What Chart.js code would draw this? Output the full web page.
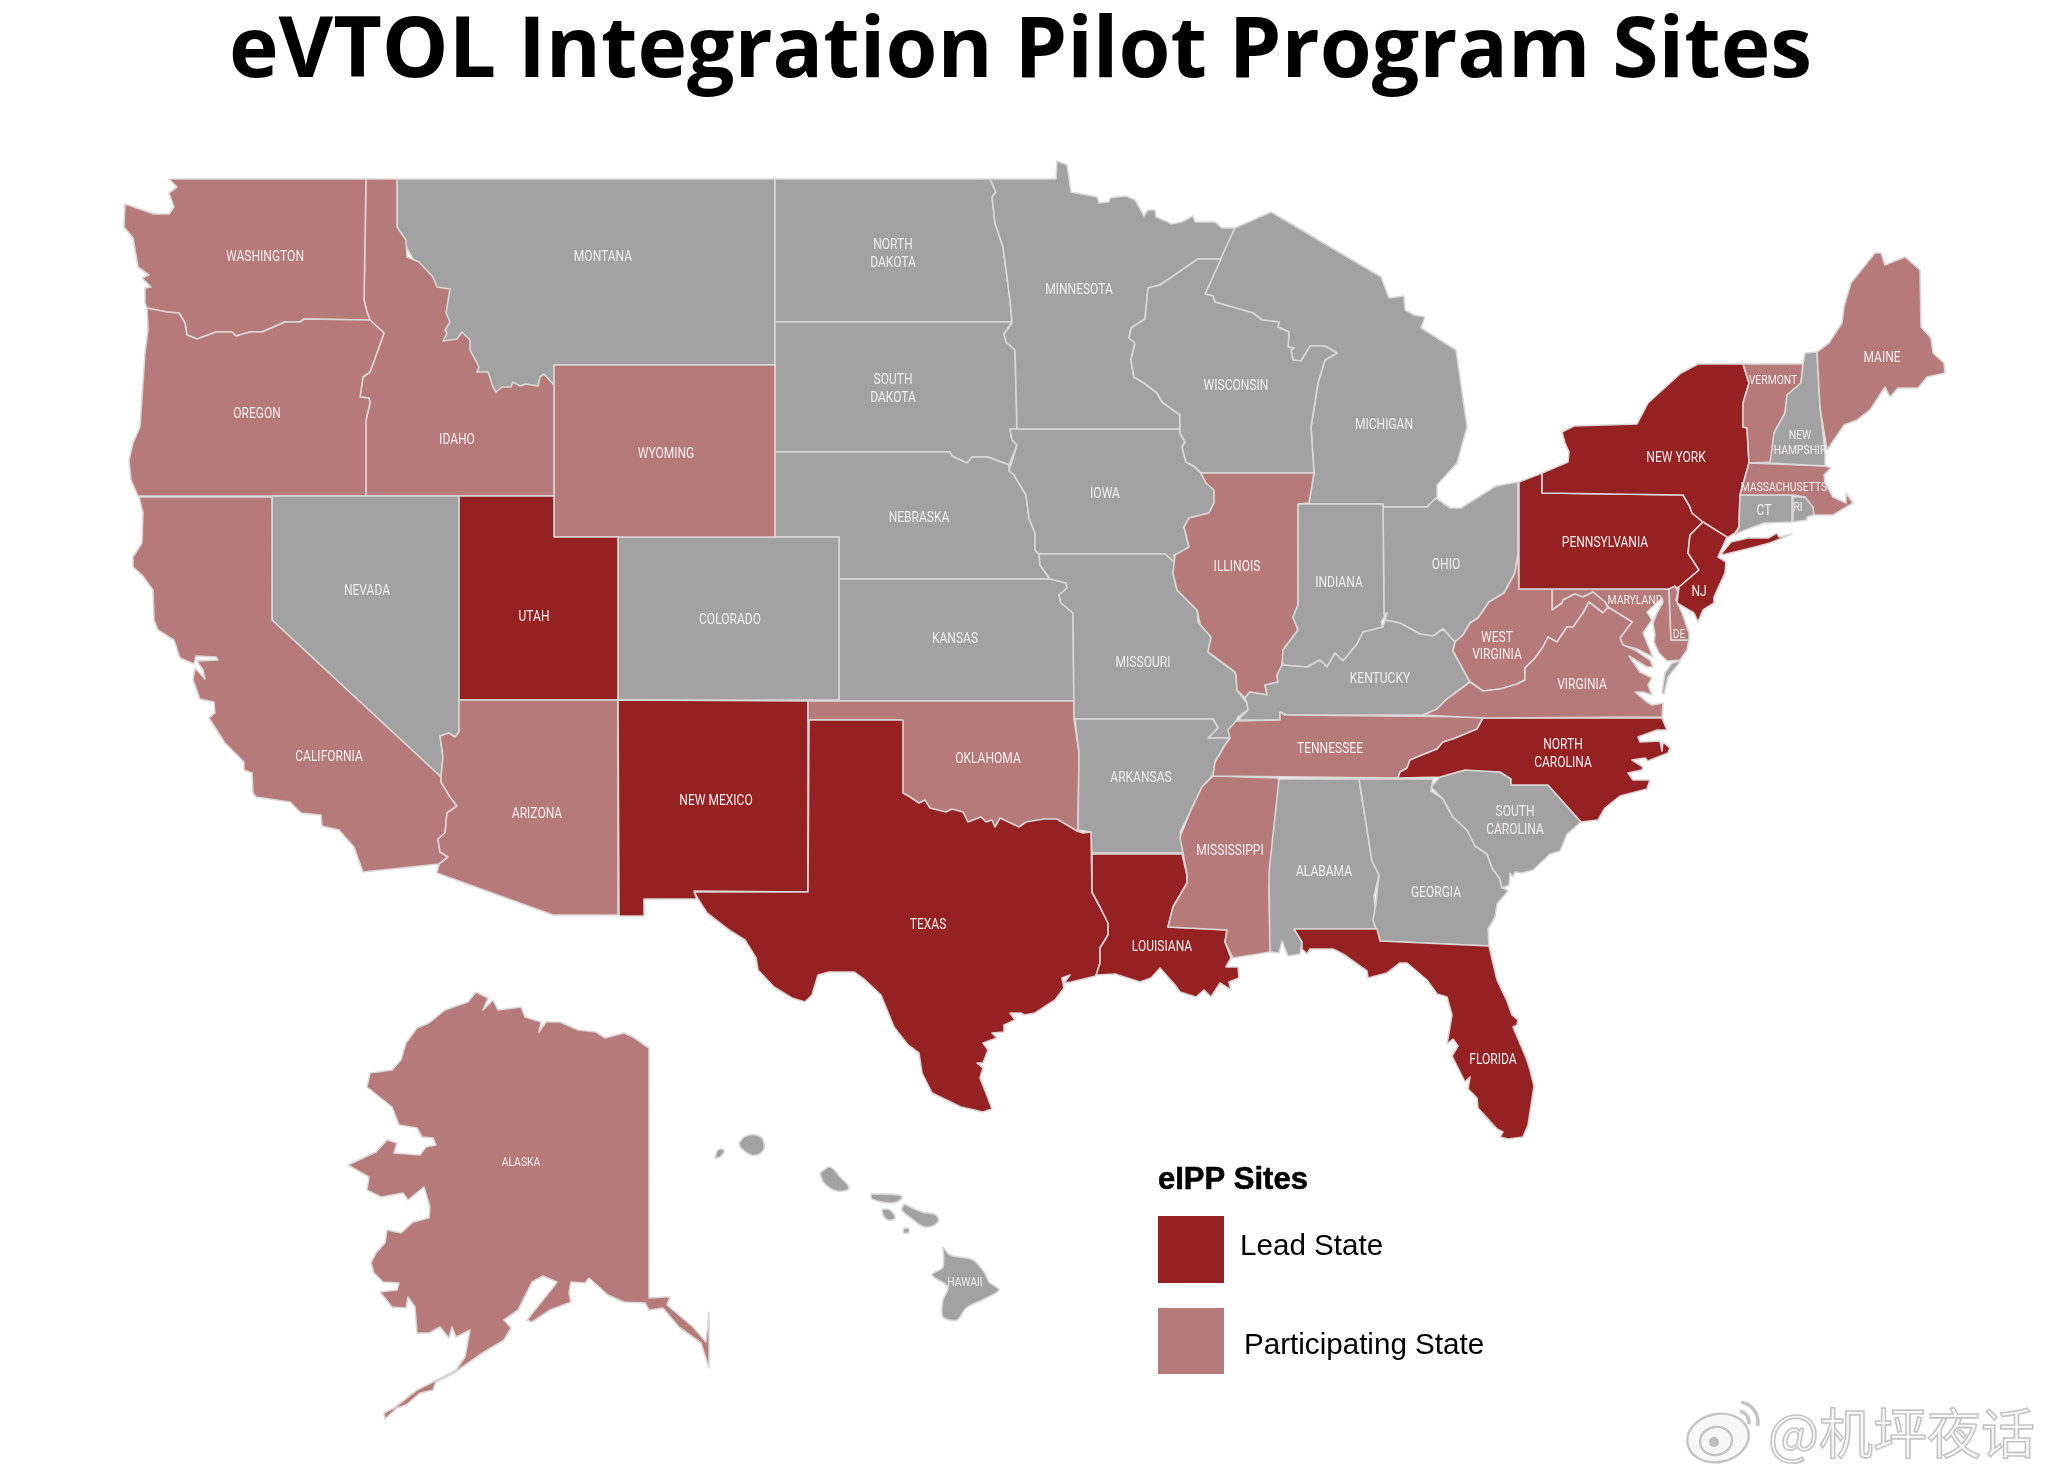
<!DOCTYPE html>
<html>
<head>
<meta charset="utf-8">
<title>eVTOL Integration Pilot Program Sites</title>
<script src="https://cdn.jsdelivr.net/npm/chart.js@4/dist/chart.umd.min.js"></script>
<style>
  html, body { margin: 0; padding: 0; background: #fff; }
  canvas { display: block; }
</style>
</head>
<body>
<canvas id="map" width="2051" height="1483"></canvas>
<script>
// state outlines (map units = picture pixels)
const washington = [[169,179],[177,187],[169,193],[174,207],[169,214],[154,214],[125,204],[124,227],[133,238],[138,267],[149,275],[142,278],[151,287],[145,288],[145,303],[147,308],[167,312],[179,313],[185,323],[187,335],[197,339],[216,332],[232,332],[236,336],[250,332],[262,332],[285,322],[300,322],[304,319],[370,320],[367,312],[364,300],[366,179]];
const oregon = [[147,308],[167,312],[179,313],[185,323],[187,335],[197,339],[216,332],[232,332],[236,336],[250,332],[262,332],[285,322],[300,322],[304,319],[370,320],[384,333],[370,372],[363,377],[360,397],[369,398],[370,403],[366,420],[366,496],[138,496],[131,480],[129,460],[133,443],[140,427],[145,353],[148,330]];
const idaho = [[366,179],[397,179],[397,227],[406,240],[407,257],[419,262],[433,277],[437,287],[450,289],[446,313],[450,322],[445,330],[447,333],[443,341],[457,339],[462,332],[470,340],[470,350],[479,367],[477,372],[488,372],[493,387],[496,392],[502,387],[511,387],[513,382],[520,386],[526,384],[538,386],[540,377],[544,374],[554,385],[554,496],[366,496],[366,420],[370,403],[369,398],[360,397],[363,377],[370,372],[384,333],[370,320],[367,312],[364,300]];
const montana = [[397,179],[775,179],[775,365],[554,365],[554,400],[470,400],[440,345],[430,290],[397,230]];
const wyoming = [[554,365],[775,365],[775,537],[554,537]];
const utah = [[459,496],[554,496],[554,537],[618,537],[618,700],[459,700]];
const nevada = [[272,496],[459,496],[459,732],[455,737],[449,733],[440,736],[443,757],[441,777],[272,620]];
const california = [[139,497],[272,497],[272,620],[441,777],[441,782],[450,797],[457,806],[447,813],[445,833],[438,839],[440,852],[448,857],[439,864],[363,872],[354,847],[339,830],[322,826],[321,815],[301,813],[290,802],[256,797],[253,793],[252,773],[244,770],[244,762],[225,743],[209,718],[215,713],[214,702],[200,699],[193,680],[195,668],[205,679],[203,670],[197,661],[218,660],[216,657],[196,656],[194,664],[180,658],[174,640],[158,630],[154,620],[153,590],[142,575],[133,567],[133,557],[142,543],[143,513]];
const arizona = [[459,700],[618,700],[618,915],[553,915],[437,873],[439,864],[448,857],[440,852],[438,839],[445,833],[447,813],[457,806],[450,797],[441,782],[441,777],[443,757],[440,736],[449,733],[455,737],[459,732]];
const colorado = [[618,537],[839,537],[839,700],[618,700]];
const newMexico = [[618,700],[808,701],[808,892],[694,891],[697,899],[644,899],[644,916],[619,916]];
const northDakota = [[775,179],[990,179],[996,192],[992,197],[995,223],[1003,247],[1010,300],[1012,322],[775,322]];
const southDakota = [[775,322],[1012,322],[1004,334],[1006,342],[1015,350],[1017,429],[1010,429],[1012,440],[1017,445],[1009,465],[988,457],[972,457],[967,463],[952,456],[950,452],[775,452]];
const nebraska = [[775,452],[950,452],[952,456],[967,463],[972,457],[988,457],[1009,465],[1009,471],[1014,475],[1026,495],[1029,518],[1035,533],[1035,550],[1039,554],[1040,565],[1050,579],[839,579],[839,537],[775,537]];
const kansas = [[839,579],[1050,579],[1066,583],[1067,588],[1059,595],[1061,603],[1073,613],[1074,701],[839,701]];
const oklahoma = [[808,701],[1074,701],[1074,719],[1079,753],[1078,835],[1060,850],[900,830],[900,720],[808,720]];
const texas = [[694,892],[808,892],[809,720],[903,720],[903,793],[910,797],[919,803],[925,800],[930,808],[946,812],[952,809],[963,812],[968,822],[981,817],[986,822],[992,820],[995,827],[1000,818],[1019,827],[1026,822],[1044,819],[1057,819],[1077,831],[1083,833],[1091,832],[1092,892],[1100,907],[1108,923],[1108,935],[1100,948],[1100,963],[1096,976],[1071,982],[1064,983],[1070,975],[1062,978],[1064,988],[1055,1000],[1035,1013],[1024,1015],[1021,1013],[1010,1013],[1015,1020],[1004,1025],[1004,1032],[992,1033],[997,1038],[983,1043],[988,1050],[983,1063],[977,1063],[983,1068],[980,1078],[986,1093],[992,1109],[983,1112],[961,1107],[932,1093],[922,1073],[919,1053],[908,1045],[894,1027],[881,995],[865,980],[854,972],[829,972],[818,975],[812,995],[805,1002],[792,998],[774,987],[758,970],[756,958],[745,940],[729,930],[707,913],[700,902]];
const minnesota = [[990,179],[1056,179],[1057,161],[1067,165],[1071,192],[1097,197],[1099,203],[1109,202],[1110,198],[1126,196],[1135,200],[1144,216],[1148,210],[1155,210],[1156,217],[1168,222],[1171,224],[1182,222],[1193,216],[1195,222],[1215,222],[1222,228],[1235,228],[1221,259],[1198,259],[1160,285],[1148,288],[1145,319],[1131,328],[1129,338],[1135,343],[1131,360],[1134,377],[1144,383],[1157,393],[1162,402],[1180,415],[1180,429],[1017,429],[1015,350],[1006,342],[1004,334],[1012,323],[1010,300],[1003,247],[995,223],[992,197],[996,192]];
const iowa = [[1010,429],[1180,429],[1180,433],[1185,442],[1182,447],[1186,462],[1195,467],[1201,473],[1206,483],[1214,490],[1214,503],[1209,513],[1189,518],[1184,527],[1189,547],[1182,552],[1174,555],[1175,563],[1165,554],[1039,554],[1035,550],[1035,533],[1029,518],[1026,495],[1014,475],[1009,471],[1017,445],[1012,440]];
const missouri = [[1039,554],[1165,554],[1175,563],[1173,573],[1177,590],[1197,610],[1198,622],[1211,637],[1208,652],[1235,672],[1236,675],[1237,690],[1242,697],[1247,703],[1248,710],[1238,717],[1235,723],[1230,730],[1232,738],[1208,738],[1218,728],[1213,719],[1074,719],[1073,613],[1061,603],[1059,595],[1067,588],[1066,583],[1050,579],[1040,565]];
const arkansas = [[1075,719],[1213,719],[1218,728],[1208,738],[1230,738],[1225,745],[1215,762],[1213,775],[1202,787],[1191,810],[1180,832],[1184,853],[1092,853],[1091,832],[1078,830],[1079,753]];
const louisiana = [[1092,854],[1182,854],[1187,875],[1187,883],[1173,907],[1168,927],[1227,930],[1225,942],[1231,958],[1226,967],[1238,967],[1239,978],[1229,982],[1231,990],[1220,983],[1211,997],[1204,990],[1196,997],[1180,992],[1175,985],[1160,968],[1151,978],[1140,982],[1115,974],[1096,975],[1100,963],[1100,948],[1108,935],[1108,923],[1100,907],[1092,892]];
const wisconsin = [[1221,259],[1198,259],[1160,285],[1148,288],[1145,319],[1131,328],[1129,338],[1135,343],[1131,360],[1134,377],[1144,383],[1157,393],[1162,402],[1180,415],[1180,433],[1185,442],[1182,447],[1186,462],[1195,467],[1201,473],[1314,473],[1311,427],[1318,383],[1325,360],[1337,353],[1325,346],[1310,346],[1301,361],[1293,360],[1291,350],[1294,348],[1288,347],[1289,332],[1278,327],[1279,322],[1262,320],[1253,313],[1215,302],[1213,296],[1205,294]];
const michigan = [[1235,228],[1271,212],[1381,277],[1389,298],[1404,296],[1405,310],[1414,315],[1425,317],[1421,328],[1456,350],[1467,427],[1457,463],[1437,485],[1437,497],[1427,507],[1383,507],[1383,504],[1298,504],[1309,503],[1314,473],[1311,427],[1318,383],[1325,360],[1337,353],[1325,346],[1310,346],[1301,361],[1293,360],[1291,350],[1294,348],[1288,347],[1289,332],[1278,327],[1279,322],[1262,320],[1253,313],[1215,302],[1213,296],[1205,294],[1221,258]];
const illinois = [[1201,473],[1314,473],[1309,503],[1298,504],[1298,605],[1293,617],[1298,630],[1283,650],[1283,663],[1277,675],[1278,682],[1265,685],[1267,695],[1250,692],[1245,698],[1237,690],[1236,675],[1235,672],[1208,652],[1211,637],[1198,622],[1200,623],[1197,610],[1177,590],[1173,573],[1175,555],[1189,547],[1184,527],[1189,518],[1209,513],[1214,503],[1214,490],[1206,483]];
const indiana = [[1298,504],[1383,504],[1384,615],[1387,613],[1381,622],[1383,627],[1363,632],[1357,644],[1343,661],[1335,653],[1327,667],[1320,660],[1307,667],[1282,665],[1283,650],[1298,630],[1293,617],[1298,605]];
const ohio = [[1383,507],[1427,507],[1436,498],[1450,508],[1461,508],[1496,486],[1518,482],[1518,553],[1515,573],[1504,593],[1489,602],[1478,618],[1470,623],[1463,635],[1455,642],[1443,629],[1433,636],[1420,634],[1400,623],[1385,620],[1387,613],[1384,615]];
const kentucky = [[1282,665],[1307,667],[1320,660],[1327,667],[1335,653],[1343,661],[1357,644],[1363,632],[1383,627],[1385,620],[1400,623],[1420,634],[1433,636],[1443,629],[1455,642],[1453,651],[1470,682],[1447,699],[1437,709],[1423,715],[1287,715],[1280,712],[1280,720],[1238,720],[1248,710],[1247,703],[1245,698],[1250,692],[1267,695],[1265,685],[1278,682],[1277,675],[1283,663]];
const tennessee = [[1280,712],[1285,715],[1483,717],[1477,729],[1453,739],[1443,742],[1437,749],[1427,753],[1410,760],[1407,768],[1400,772],[1398,778],[1213,776],[1215,762],[1225,745],[1230,738],[1228,730],[1236,721],[1280,720]];
const mississippi = [[1213,776],[1278,778],[1280,787],[1269,887],[1270,952],[1233,958],[1225,942],[1227,930],[1168,927],[1173,907],[1187,883],[1187,875],[1180,837],[1191,810],[1202,787]];
const alabama = [[1279,779],[1359,779],[1372,861],[1379,875],[1374,896],[1376,918],[1377,929],[1294,929],[1302,942],[1300,954],[1288,956],[1282,941],[1279,953],[1270,952],[1269,872]];
const georgia = [[1359,779],[1433,779],[1431,791],[1443,799],[1453,817],[1467,830],[1475,846],[1487,854],[1492,868],[1500,879],[1502,887],[1508,891],[1497,904],[1495,917],[1488,929],[1489,946],[1380,941],[1373,920],[1376,903],[1379,875],[1372,861]];
const southCarolina = [[1431,787],[1440,777],[1465,770],[1500,772],[1511,779],[1511,785],[1548,785],[1581,822],[1567,834],[1560,851],[1550,854],[1533,870],[1522,873],[1515,872],[1513,877],[1510,873],[1509,885],[1502,888],[1500,879],[1492,868],[1487,854],[1475,846],[1467,830],[1453,817],[1443,799]];
const florida = [[1294,929],[1377,929],[1380,941],[1489,946],[1497,980],[1507,1001],[1512,1015],[1518,1020],[1517,1025],[1513,1027],[1527,1060],[1530,1070],[1534,1086],[1528,1125],[1523,1137],[1508,1139],[1500,1137],[1503,1132],[1497,1129],[1478,1108],[1477,1098],[1468,1089],[1470,1077],[1465,1082],[1452,1056],[1458,1046],[1453,1039],[1447,1044],[1452,1015],[1447,997],[1437,994],[1427,980],[1407,963],[1400,963],[1387,973],[1368,978],[1367,971],[1343,954],[1333,949],[1310,949],[1307,954],[1302,949],[1302,942]];
const northCarolina = [[1483,718],[1662,718],[1667,730],[1657,730],[1638,737],[1640,742],[1660,741],[1662,751],[1663,742],[1670,748],[1668,753],[1648,761],[1645,758],[1632,760],[1643,767],[1642,770],[1628,773],[1633,780],[1650,780],[1647,789],[1620,796],[1605,808],[1598,820],[1581,822],[1548,785],[1511,785],[1511,779],[1500,772],[1465,770],[1440,777],[1398,778],[1400,772],[1407,768],[1410,760],[1427,753],[1437,749],[1443,742],[1453,739],[1477,729]];
const virginia = [[1423,715],[1437,709],[1447,699],[1470,682],[1483,691],[1500,689],[1517,684],[1525,680],[1525,668],[1535,658],[1543,647],[1548,637],[1557,642],[1567,627],[1573,627],[1583,613],[1589,602],[1603,613],[1608,607],[1632,622],[1620,638],[1623,645],[1635,650],[1650,660],[1653,667],[1647,667],[1629,656],[1640,672],[1652,678],[1648,685],[1652,695],[1643,692],[1635,692],[1647,702],[1652,705],[1663,703],[1662,717],[1483,718]];
const virginiaShore = [[1680,661],[1672,663],[1665,673],[1662,693],[1664,694],[1668,677],[1680,662]];
const westVirginia = [[1518,553],[1519,589],[1552,589],[1552,610],[1562,603],[1563,600],[1575,594],[1583,597],[1593,592],[1605,602],[1608,607],[1603,613],[1589,602],[1583,613],[1573,627],[1567,627],[1557,642],[1548,637],[1543,647],[1535,658],[1525,668],[1525,680],[1517,684],[1500,689],[1483,691],[1470,682],[1453,651],[1455,642],[1463,635],[1470,623],[1478,618],[1489,602],[1504,593],[1515,573]];
const maryland = [[1552,589],[1669,589],[1671,640],[1689,640],[1687,650],[1680,660],[1667,661],[1659,653],[1654,642],[1655,635],[1653,623],[1657,613],[1663,602],[1662,598],[1647,612],[1652,620],[1643,633],[1648,645],[1653,657],[1637,649],[1623,645],[1620,638],[1632,622],[1608,607],[1605,602],[1593,592],[1583,597],[1575,594],[1563,600],[1562,603],[1552,610]];
const delaware = [[1669,589],[1675,586],[1678,592],[1676,600],[1682,613],[1689,633],[1689,640],[1671,640]];
const pennsylvania = [[1519,482],[1542,473],[1542,493],[1683,495],[1690,507],[1692,513],[1703,522],[1690,535],[1688,553],[1699,570],[1679,587],[1668,589],[1519,589]];
const newYork = [[1542,473],[1568,462],[1569,452],[1565,443],[1562,432],[1574,426],[1637,424],[1648,403],[1681,373],[1698,364],[1743,364],[1749,383],[1743,403],[1743,427],[1747,428],[1749,463],[1740,495],[1739,527],[1735,533],[1727,538],[1703,522],[1692,513],[1690,507],[1683,495],[1542,493]];
const longIsland = [[1722,553],[1731,542],[1748,538],[1768,538],[1777,533],[1779,537],[1792,534],[1770,543],[1751,548],[1722,555]];
const newJersey = [[1703,522],[1727,537],[1718,557],[1726,562],[1725,573],[1714,597],[1714,603],[1703,610],[1698,622],[1694,613],[1677,603],[1679,587],[1699,570],[1688,553],[1690,535]];
const connecticut = [[1740,495],[1792,495],[1792,522],[1764,523],[1740,532],[1735,535],[1739,527]];
const rhodeIsland = [[1793,497],[1805,497],[1813,507],[1814,515],[1807,517],[1807,520],[1793,522]];
const massachusetts = [[1749,463],[1825,466],[1831,468],[1824,475],[1825,483],[1833,497],[1846,503],[1846,493],[1853,503],[1833,515],[1814,515],[1805,497],[1793,495],[1740,495]];
const vermont = [[1743,364],[1803,364],[1801,383],[1787,395],[1785,413],[1774,433],[1772,462],[1749,463],[1747,428],[1743,427],[1743,403],[1749,383]];
const newHampshire = [[1805,353],[1817,352],[1820,407],[1825,453],[1825,466],[1770,463],[1774,433],[1785,413],[1787,395],[1801,383],[1803,364]];
const maine = [[1817,352],[1829,343],[1842,323],[1844,307],[1851,283],[1875,253],[1881,253],[1885,265],[1905,257],[1920,270],[1921,327],[1931,338],[1933,353],[1944,363],[1945,373],[1927,377],[1918,388],[1898,388],[1890,397],[1885,387],[1870,410],[1857,420],[1844,425],[1827,450],[1820,407]];
const alaska = [[476,992],[488,998],[483,1010],[493,1000],[498,1010],[521,1007],[525,1017],[541,1022],[539,1032],[546,1022],[560,1022],[578,1030],[596,1032],[605,1038],[624,1033],[633,1037],[649,1048],[649,1298],[665,1297],[670,1297],[667,1305],[693,1327],[706,1342],[709,1312],[709,1368],[701,1343],[679,1327],[663,1308],[649,1310],[645,1303],[624,1302],[608,1295],[589,1278],[585,1283],[571,1282],[569,1293],[571,1302],[550,1310],[532,1322],[527,1320],[555,1285],[557,1282],[543,1276],[532,1282],[518,1310],[504,1320],[511,1328],[504,1340],[484,1352],[468,1363],[454,1373],[436,1382],[433,1390],[420,1393],[406,1405],[397,1408],[385,1419],[384,1413],[394,1408],[417,1390],[433,1382],[456,1370],[465,1357],[470,1330],[456,1337],[452,1327],[449,1338],[440,1327],[429,1333],[417,1333],[415,1307],[408,1297],[406,1308],[392,1307],[380,1292],[397,1290],[399,1283],[383,1282],[374,1273],[371,1263],[376,1253],[385,1243],[387,1230],[401,1233],[413,1222],[429,1218],[430,1207],[424,1187],[408,1200],[403,1193],[381,1197],[367,1190],[369,1177],[348,1165],[376,1152],[387,1140],[397,1143],[394,1153],[420,1155],[426,1147],[436,1145],[433,1138],[422,1137],[417,1128],[399,1125],[392,1107],[367,1087],[370,1073],[392,1070],[401,1060],[406,1043],[417,1028],[429,1023],[445,1010],[468,1002]];
const niihau = [[715,1158],[718,1150],[724,1150],[720,1157]];
const kauai = [[739,1143],[746,1136],[759,1136],[764,1143],[762,1152],[752,1155],[741,1148]];
const oahu = [[820,1173],[830,1167],[840,1177],[849,1188],[837,1191],[824,1183]];
const molokai = [[871,1194],[899,1195],[902,1198],[892,1203],[872,1199]];
const lanai = [[882,1209],[890,1210],[895,1218],[888,1220],[883,1215]];
const maui = [[904,1204],[922,1212],[936,1215],[938,1222],[925,1227],[911,1218],[902,1210]];
const kahoolawe = [[903,1229],[908,1228],[909,1232],[904,1233]];
const bigIsland = [[943,1247],[950,1255],[973,1260],[984,1272],[989,1282],[999,1290],[982,1300],[966,1308],[957,1320],[943,1317],[943,1300],[948,1287],[932,1275],[943,1267]];

// state names and where they sit
const labelNames = ['WASHINGTON','MONTANA','OREGON','IDAHO','WYOMING','NEVADA','UTAH','COLORADO','CALIFORNIA','ARIZONA','NEW MEXICO','NORTH','DAKOTA','SOUTH','DAKOTA','MINNESOTA','WISCONSIN','MICHIGAN','IOWA','NEBRASKA','ILLINOIS','INDIANA','KANSAS','OHIO','MISSOURI','OKLAHOMA','ARKANSAS','TENNESSEE','MISSISSIPPI','ALABAMA','TEXAS','LOUISIANA','KENTUCKY','WEST','VIRGINIA','VIRGINIA','NORTH','CAROLINA','SOUTH','CAROLINA','GEORGIA','FLORIDA','NEW YORK','PENNSYLVANIA','NJ','MAINE','VERMONT','NEW','HAMPSHIR','MASSACHUSETTS','CT','RI','MARYLAND','DE','ALASKA','HAWAII'];
const labelX = [265,603,257,457,666,367,534,730,329,537,716,893,893,893,893,1079,1236,1384,1105,919,1237,1339,955,1446,1143,988,1141,1330,1230,1324,928,1162,1380,1497,1497,1582,1563,1563,1515,1515,1436,1493,1676,1605,1699,1882,1773,1800,1800,1784,1764,1798,1635,1679,521,965];
const labelY = [256,256,413,439,453,590,616,619,756,813,800,244,262,379,397,289,385,424,493,517,566,582,638,564,662,758,777,748,850,871,924,946,678,637,654,684,744,762,811,829,892,1059,457,542,591,357,380,435,450,487,510,507,600,634,1162,1282];
const smallLabels = ['VERMONT','NEW','HAMPSHIR','MASSACHUSETTS','MARYLAND','DE','RI','ALASKA','HAWAII'];

const legendTitle = 'eIPP Sites';
const legendNames = ['Lead State', 'Participating State'];
const watermarkText = '@机坪夜话';

const LEAD = '#952123';
const PARTICIPATING = '#B57A79';
const GRAY = '#A3A2A2';
const BORDER = '#DAD6D6';

function polygon(shape, color, tension) {
  const pts = shape.map(p => ({ x: p[0], y: p[1] }));
  pts.push(pts[0]);
  return { data: pts, showLine: true, fill: 'shape', backgroundColor: color, borderColor: BORDER, borderWidth: 1.6, borderJoinStyle: 'round', pointRadius: 0, tension: tension || 0, clip: false };
}

// painters order: the later state lays its border over the neighbour
const paintOrder = [
  [montana, GRAY], [northDakota, GRAY], [southDakota, GRAY], [nebraska, GRAY], [iowa, GRAY], [kansas, GRAY], [colorado, GRAY], [wyoming, PARTICIPATING],
  [idaho, PARTICIPATING], [washington, PARTICIPATING], [oregon, PARTICIPATING], [nevada, GRAY], [california, PARTICIPATING], [utah, LEAD], [arizona, PARTICIPATING], [newMexico, LEAD],
  [oklahoma, PARTICIPATING], [missouri, GRAY], [arkansas, GRAY], [texas, LEAD], [louisiana, LEAD], [mississippi, PARTICIPATING], [alabama, GRAY], [georgia, GRAY], [southCarolina, GRAY], [florida, LEAD],
  [minnesota, GRAY], [michigan, GRAY], [wisconsin, GRAY], [illinois, PARTICIPATING], [ohio, GRAY], [indiana, GRAY], [kentucky, GRAY], [tennessee, PARTICIPATING], [northCarolina, LEAD],
  [maryland, PARTICIPATING], [westVirginia, PARTICIPATING], [virginia, PARTICIPATING], [virginiaShore, GRAY], [pennsylvania, LEAD], [newYork, LEAD], [longIsland, LEAD], [newJersey, LEAD], [delaware, PARTICIPATING],
  [connecticut, GRAY], [massachusetts, PARTICIPATING], [rhodeIsland, GRAY], [vermont, PARTICIPATING], [newHampshire, GRAY], [maine, PARTICIPATING], [alaska, PARTICIPATING],
  [niihau, GRAY, 0.4], [kauai, GRAY, 0.4], [oahu, GRAY, 0.4], [molokai, GRAY, 0.4], [lanai, GRAY, 0.4], [maui, GRAY, 0.4], [kahoolawe, GRAY, 0.4], [bigIsland, GRAY, 0.3]
];
const datasets = paintOrder.map((d, i) => Object.assign(polygon(d[0], d[1], d[2]), { order: -i }));

const mapText = {
  id: 'mapText',
  afterDatasetsDraw(chart) {
    const { ctx, scales } = chart;
    const px = v => scales.x.getPixelForValue(v);
    const py = v => scales.y.getPixelForValue(v);
    ctx.save();

    // state labels, the source type is a narrow one so squeeze Roboto a bit
    ctx.textAlign = 'center';
    ctx.textBaseline = 'middle';
    ctx.fillStyle = '#F1ECEC';
    labelNames.forEach((name, i) => {
      const size = smallLabels.includes(name) ? 12.5 : 14.5;
      ctx.save();
      ctx.translate(px(labelX[i]), py(labelY[i] + 1));
      ctx.scale(0.83, 1);
      ctx.font = size + 'px Roboto, sans-serif';
      ctx.fillText(name, 0, 0);
      ctx.restore();
    });

    // legend
    ctx.textAlign = 'left';
    ctx.fillStyle = '#000';
    ctx.strokeStyle = '#000';
    ctx.lineWidth = 0.6;
    ctx.font = 'bold 31px "Liberation Sans", sans-serif';
    ctx.fillText(legendTitle, px(1158), py(1180));
    ctx.strokeText(legendTitle, px(1158), py(1180));
    ctx.fillStyle = LEAD;
    ctx.fillRect(px(1158), py(1216), 66, 67);
    ctx.fillStyle = PARTICIPATING;
    ctx.fillRect(px(1158), py(1308), 66, 66);
    ctx.fillStyle = '#000';
    ctx.font = '29.6px "Liberation Sans", sans-serif';
    ctx.fillText(legendNames[0], px(1240), py(1247));
    ctx.fillText(legendNames[1], px(1244), py(1346));

    // watermark
    ctx.font = '54px "Noto Sans CJK SC", sans-serif';
    ctx.lineWidth = 1.6;
    ctx.strokeStyle = '#C4C4C4';
    ctx.fillStyle = '#F7F7F7';
    ctx.fillText(watermarkText, px(1768), py(1433));
    ctx.strokeText(watermarkText, px(1768), py(1433));
    ctx.lineWidth = 2.4;
    ctx.beginPath();
    ctx.ellipse(px(1718), py(1438), 31, 24, -0.2, 0, Math.PI * 2);
    ctx.fill();
    ctx.stroke();
    ctx.beginPath();
    ctx.ellipse(px(1716), py(1441), 16, 14, -0.2, 0, Math.PI * 2);
    ctx.stroke();
    ctx.fillStyle = '#BDBDBD';
    ctx.beginPath();
    ctx.arc(px(1714), py(1442), 5, 0, Math.PI * 2);
    ctx.fill();
    ctx.lineWidth = 3.5;
    ctx.beginPath();
    ctx.arc(px(1738), py(1422), 11, -1.4, 0.2);
    ctx.stroke();
    ctx.beginPath();
    ctx.arc(px(1738), py(1422), 20, -1.4, 0.2);
    ctx.stroke();
    ctx.restore();
  }
};

new Chart(document.getElementById('map'), {
  type: 'scatter',
  data: { datasets },
  plugins: [mapText],
  options: {
    responsive: false,
    animation: false,
    layout: { padding: { right: 10 } },
    events: [],
    plugins: {
      legend: { display: false },
      tooltip: { enabled: false },
      title: {
        display: true,
        text: 'eVTOL Integration Pilot Program Sites',
        color: '#000',
        font: { family: '"Open Sans", sans-serif', size: 84, weight: 'bold', lineHeight: 1.05 },
        padding: { top: 9, bottom: 22.8 }
      }
    },
    scales: {
      x: { type: 'linear', min: 0, max: 2041, display: false },
      y: { type: 'linear', min: 120, max: 1483, reverse: true, display: false }
    }
  }
});
</script>
</body>
</html>
